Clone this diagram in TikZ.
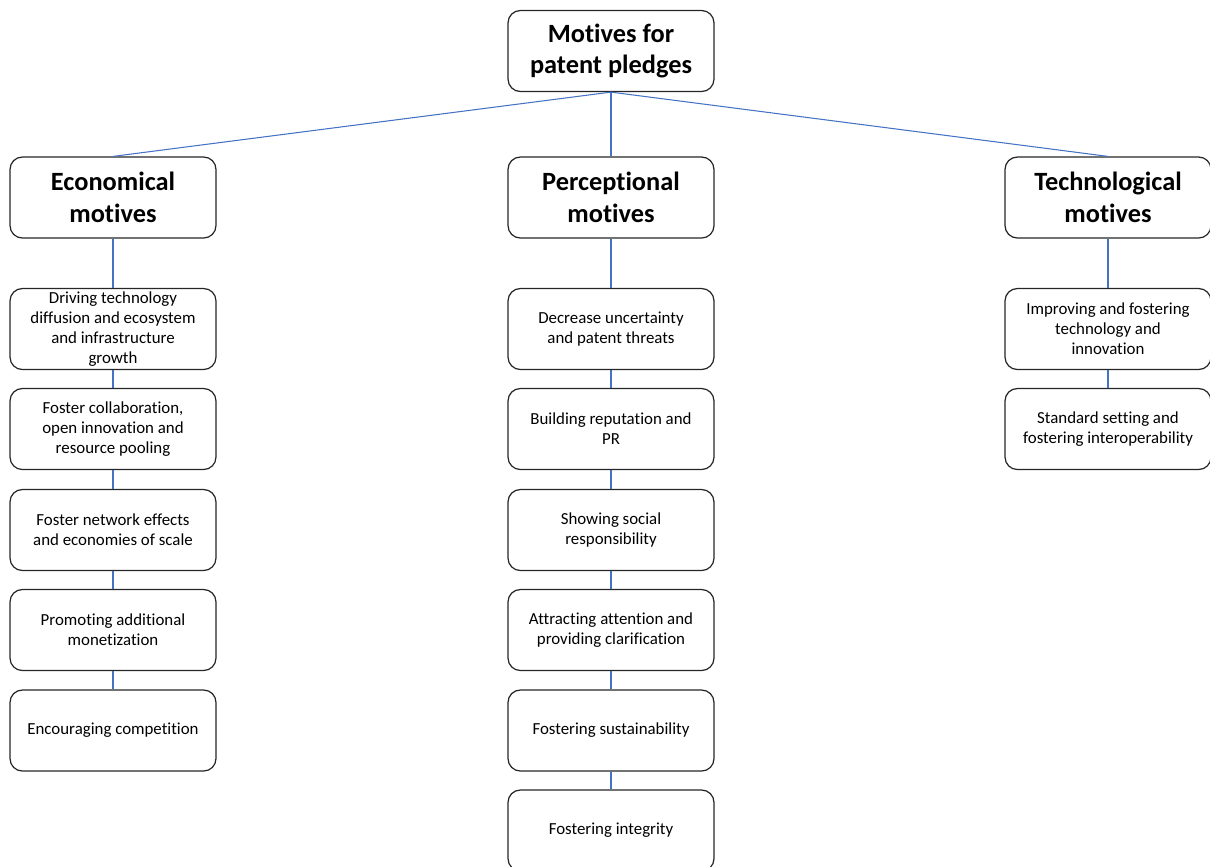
\documentclass[tikz,border=0pt]{standalone}
\usepackage{fontspec}
\setmainfont{Carlito}[Ligatures=NoCommon]
\definecolor{linkblue}{RGB}{68,114,196}
\tikzset{
  motive/.style={draw=black!85, line width=.7pt, rounded corners=7pt, align=center,
    minimum width=4.12cm, minimum height=1.62cm, inner sep=0pt,
    font=\fontsize{15}{18}\selectfont\bfseries},
  item/.style={motive, font=\fontsize{9.6}{11.4}\selectfont},
  link/.style={draw=linkblue, line width=.6pt}
}
\begin{document}
\begin{tikzpicture}[x=0.02cm, y=-0.02cm]
\useasboundingbox (0,0) rectangle (1210,866);

\node[motive] (root) at (611,51) {Motives for\\patent pledges};

\node[motive] (eco) at (113,197.5) {Economical\\motives};
\node[motive] (per) at (611,197.5) {Perceptional\\motives};
\node[motive] (tec) at (1108,197.5) {Technological\\motives};

\draw[link] (root.south) -- (eco.north);
\draw[link] (root.south) -- (per.north);
\draw[link] (root.south) -- (tec.north);

% economical
\node[item] (eco1) at (113,329) {Driving technology\\diffusion and ecosystem\\and infrastructure\\growth};
\node[item] (eco2) at (113,429) {Foster collaboration,\\open innovation and\\resource pooling};
\node[item] (eco3) at (113,530) {Foster network effects\\and economies of scale};
\node[item] (eco4) at (113,630) {Promoting additional\\monetization};
\node[item] (eco5) at (113,730.5) {Encouraging competition};

% perceptional
\node[item] (per1) at (611,329) {Decrease uncertainty\\and patent threats};
\node[item] (per2) at (611,429) {Building reputation and\\PR};
\node[item] (per3) at (611,530) {Showing social\\responsibility};
\node[item] (per4) at (611,630) {Attracting attention and\\providing clarification};
\node[item] (per5) at (611,730.5) {Fostering sustainability};
\node[item] (per6) at (611,830.5) {Fostering integrity};

% technological
\node[item] (tec1) at (1108,329) {Improving and fostering\\technology and\\innovation};
\node[item] (tec2) at (1108,429) {Standard setting and\\fostering interoperability};

\draw[link] (eco) -- (eco1);
\foreach \a/\b in {1/2,2/3,3/4,4/5}
  \draw[link] (eco\a) -- (eco\b);

\draw[link] (per) -- (per1);
\foreach \a/\b in {1/2,2/3,3/4,4/5,5/6}
  \draw[link] (per\a) -- (per\b);

\draw[link] (tec) -- (tec1);
\draw[link] (tec1) -- (tec2);
\end{tikzpicture}
\end{document}
